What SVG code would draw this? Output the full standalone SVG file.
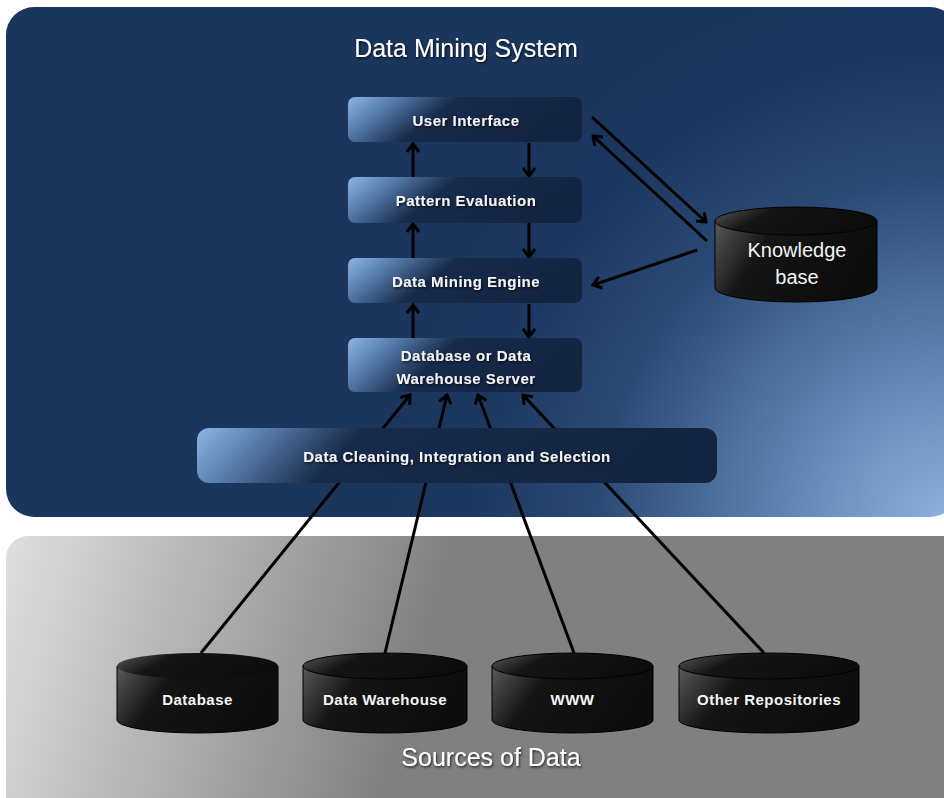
<svg xmlns="http://www.w3.org/2000/svg" width="944" height="798" viewBox="0 0 944 798">
<defs>
  <radialGradient id="sysBg" gradientUnits="userSpaceOnUse" cx="950" cy="530" r="570">
    <stop offset="0" stop-color="#90b3df"/>
    <stop offset="0.3" stop-color="#5f83b1"/>
    <stop offset="0.62" stop-color="#2a4a75"/>
    <stop offset="0.85" stop-color="#1b3760"/>
    <stop offset="1" stop-color="#1a365d"/>
  </radialGradient>
  <linearGradient id="srcBg" gradientUnits="userSpaceOnUse" x1="10" y1="540" x2="420" y2="660">
    <stop offset="0" stop-color="#dedede"/>
    <stop offset="1" stop-color="#808080"/>
  </linearGradient>
  <linearGradient id="boxGrad" x1="0" y1="0" x2="1" y2="0.25">
    <stop offset="0" stop-color="#8cb5e6"/>
    <stop offset="0.2" stop-color="#557cab"/>
    <stop offset="0.45" stop-color="#172a4a"/>
    <stop offset="1" stop-color="#132441"/>
  </linearGradient>
  <linearGradient id="wideGrad" x1="0" y1="0" x2="1" y2="0.1">
    <stop offset="0" stop-color="#8cb5e6"/>
    <stop offset="0.13" stop-color="#5a80ae"/>
    <stop offset="0.32" stop-color="#172a4a"/>
    <stop offset="1" stop-color="#132441"/>
  </linearGradient>
  <linearGradient id="cylGrad" x1="0" y1="0" x2="1" y2="0.3">
    <stop offset="0" stop-color="#5a5a5a"/>
    <stop offset="0.35" stop-color="#151515"/>
    <stop offset="1" stop-color="#0c0c0c"/>
  </linearGradient>
  <filter id="ts" x="-10%" y="-30%" width="120%" height="160%">
    <feDropShadow dx="1" dy="1.5" stdDeviation="1" flood-color="#000" flood-opacity="0.7"/>
  </filter>
  <marker id="ah" viewBox="0 0 14 14" refX="12" refY="7" markerWidth="14" markerHeight="14" markerUnits="userSpaceOnUse" orient="auto">
    <path d="M4,1 L12,7 L4,13" fill="none" stroke="#000" stroke-width="3"/>
  </marker>
  <style>
    .box text, .cyl text { font-family: "Liberation Sans", Arial, sans-serif; font-weight: bold; font-size: 15px; letter-spacing: 0.5px; fill: #f4f4f4; text-anchor: middle; }
    .cyl text.kb { font-weight: normal; font-size: 20px; letter-spacing: 0; }
    .title { font-family: "Liberation Sans", Arial, sans-serif; font-size: 25px; fill: #ffffff; text-anchor: middle; }
    .body { fill: url(#cylGrad); stroke: #000; stroke-width: 1; }
    .top { fill: url(#cylGrad); stroke: #000; stroke-width: 1; }
    .conn line { stroke: #000; stroke-width: 3; }
    .arr { marker-end: url(#ah); }
  </style>
</defs>

<!-- panels -->
<g id="system-panel">
  <rect x="6" y="7" width="952" height="510" rx="28" fill="url(#sysBg)"/>
  <text class="title" x="466" y="57" filter="url(#ts)">Data Mining System</text>
</g>
<g id="sources-panel">
  <rect x="6" y="536" width="970" height="300" rx="22" fill="url(#srcBg)"/>
  <text class="title" x="491" y="766" filter="url(#ts)">Sources of Data</text>
</g>

<!-- connectors -->
<g id="connectors" class="conn">
  <line class="arr" x1="413" y1="177" x2="413" y2="144"/>
  <line class="arr" x1="413" y1="258" x2="413" y2="224"/>
  <line class="arr" x1="413" y1="338" x2="413" y2="305"/>
  <line class="arr" x1="529" y1="143" x2="529" y2="176"/>
  <line class="arr" x1="529" y1="223" x2="529" y2="257"/>
  <line class="arr" x1="529" y1="304" x2="529" y2="337"/>
  <line class="arr" x1="592" y1="117" x2="706" y2="222"/>
  <line class="arr" x1="707" y1="241" x2="593" y2="136"/>
  <line class="arr" x1="697" y1="250" x2="593" y2="285"/>
  <line class="arr" x1="201" y1="653" x2="410" y2="395"/>
  <line class="arr" x1="385" y1="653" x2="447" y2="395"/>
  <line class="arr" x1="574" y1="653" x2="478" y2="395"/>
  <line class="arr" x1="764" y1="653" x2="523" y2="395"/>
</g>

<!-- boxes -->
<g id="user-interface" class="box">
  <rect x="348" y="97" width="234" height="45" rx="7" fill="url(#boxGrad)"/>
  <text x="466" y="126" filter="url(#ts)">User Interface</text>
</g>
<g id="pattern-evaluation" class="box">
  <rect x="348" y="177" width="234" height="46" rx="7" fill="url(#boxGrad)"/>
  <text x="466" y="206" filter="url(#ts)">Pattern Evaluation</text>
</g>
<g id="data-mining-engine" class="box">
  <rect x="348" y="258" width="234" height="45" rx="7" fill="url(#boxGrad)"/>
  <text x="466" y="287" filter="url(#ts)">Data Mining Engine</text>
</g>
<g id="database-server" class="box">
  <rect x="348" y="338" width="234" height="54" rx="7" fill="url(#boxGrad)"/>
  <text x="466" y="361" filter="url(#ts)">Database or Data</text>
  <text x="466" y="384" filter="url(#ts)">Warehouse Server</text>
</g>
<g id="data-cleaning" class="box">
  <rect x="197" y="428" width="520" height="55" rx="12" fill="url(#wideGrad)"/>
  <text x="457" y="462" filter="url(#ts)">Data Cleaning, Integration and Selection</text>
</g>

<!-- knowledge base -->
<g id="knowledge-base" class="cyl">
  <path class="body" d="M715,221 L715,288 A81,14 0 0 0 877,288 L877,221 Z"/>
  <ellipse class="top" cx="796" cy="221" rx="81" ry="14"/>
  <text class="kb" x="797" y="257">Knowledge</text>
  <text class="kb" x="797" y="284">base</text>
</g>

<!-- sources -->
<g id="database" class="cyl">
  <path class="body" d="M117,666 L117,720 A80.5,13 0 0 0 278,720 L278,666 Z"/>
  <ellipse class="top" cx="197.5" cy="666" rx="80.5" ry="13" style="stroke:none"/>
  <text x="197.5" y="705">Database</text>
</g>
<g id="data-warehouse" class="cyl">
  <path class="body" d="M303,666 L303,720 A82,13 0 0 0 467,720 L467,666 Z"/>
  <ellipse class="top" cx="385" cy="666" rx="82" ry="13"/>
  <text x="385" y="705">Data Warehouse</text>
</g>
<g id="www" class="cyl">
  <path class="body" d="M492,666 L492,720 A80.5,13 0 0 0 653,720 L653,666 Z"/>
  <ellipse class="top" cx="572.5" cy="666" rx="80.5" ry="13"/>
  <text x="572.5" y="705">WWW</text>
</g>
<g id="other-repositories" class="cyl">
  <path class="body" d="M679,666 L679,720 A90,13 0 0 0 859,720 L859,666 Z"/>
  <ellipse class="top" cx="769" cy="666" rx="90" ry="13"/>
  <text x="769" y="705">Other Repositories</text>
</g>
</svg>
